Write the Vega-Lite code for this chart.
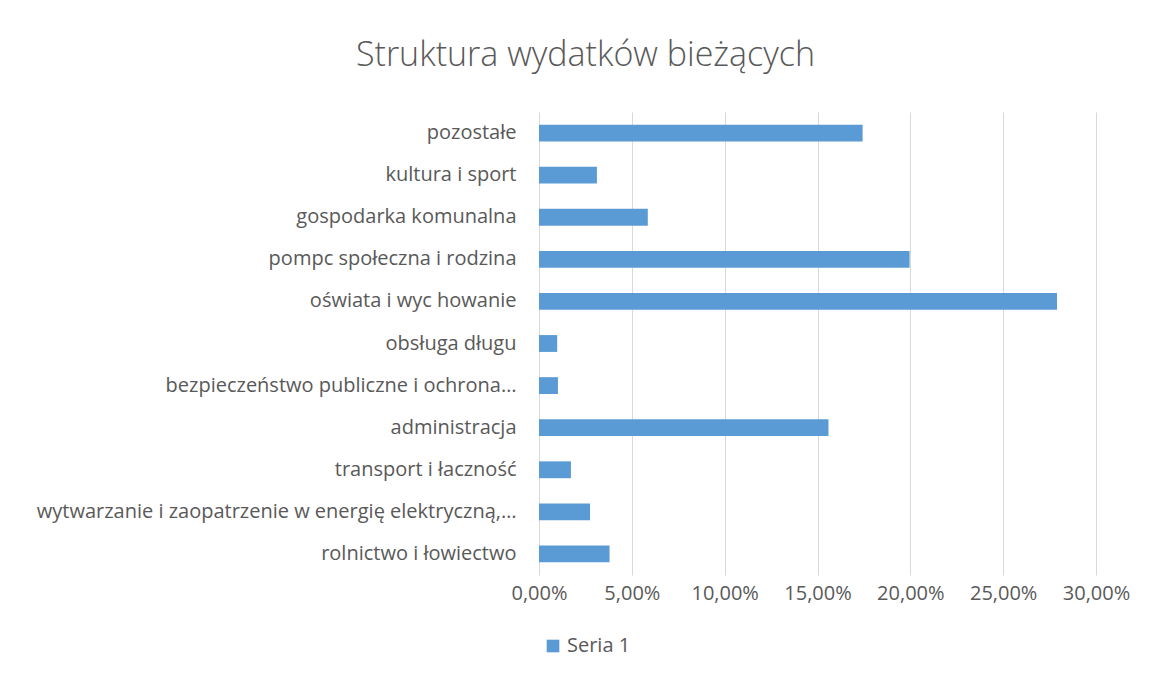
{
  "$schema": "https://vega.github.io/schema/vega-lite/v6.json",
  "width": 557,
  "height": 463,
  "autosize": "none",
  "padding": {"left": 539, "top": 112, "right": 53, "bottom": 100},
  "background": "white",
  "title": {
    "text": "Struktura wydatków bieżących",
    "font": "Open Sans",
    "fontSize": 34,
    "fontWeight": 300,
    "color": "#595959",
    "anchor": "middle",
    "frame": "group",
    "baseline": "alphabetic",
    "offset": 12,
    "dx": -232
  },
  "data": {
    "values": [
      {"category": "pozostałe", "value": 0.1743, "series": "Seria 1"},
      {"category": "kultura i sport", "value": 0.0312, "series": "Seria 1"},
      {"category": "gospodarka komunalna", "value": 0.0586, "series": "Seria 1"},
      {"category": "pompc społeczna i rodzina", "value": 0.1996, "series": "Seria 1"},
      {"category": "oświata i wyc howanie", "value": 0.279, "series": "Seria 1"},
      {"category": "obsługa długu", "value": 0.0098, "series": "Seria 1"},
      {"category": "bezpieczeństwo publiczne i ochrona…", "value": 0.0102, "series": "Seria 1"},
      {"category": "administracja", "value": 0.1559, "series": "Seria 1"},
      {"category": "transport i łaczność", "value": 0.0172, "series": "Seria 1"},
      {"category": "wytwarzanie i zaopatrzenie w energię elektryczną,…", "value": 0.0275, "series": "Seria 1"},
      {"category": "rolnictwo i łowiectwo", "value": 0.038, "series": "Seria 1"}
    ]
  },
  "mark": {"type": "bar"},
  "encoding": {
    "y": {
      "field": "category",
      "type": "nominal",
      "sort": null,
      "scale": {"paddingInner": 0.6, "paddingOuter": 0.3},
      "axis": {
        "title": null,
        "domain": false,
        "ticks": false,
        "grid": false,
        "labelPadding": 23,
        "labelFont": "Open Sans",
        "labelFontSize": 20,
        "labelColor": "#595959",
        "labelLimit": 700
      }
    },
    "x": {
      "field": "value",
      "type": "quantitative",
      "scale": {"domain": [0, 0.3], "nice": false},
      "axis": {
        "title": null,
        "values": [0, 0.05, 0.1, 0.15, 0.2, 0.25, 0.3],
        "labelExpr": "replace(format(datum.value, '.2%'), '.', ',')",
        "labelOverlap": false,
        "labelFlush": false,
        "labelBound": false,
        "labelAlign": "center",
        "domain": false,
        "ticks": false,
        "grid": true,
        "gridColor": "#D9D9D9",
        "gridWidth": 1,
        "labelPadding": 8,
        "labelFont": "Open Sans",
        "labelFontSize": 20,
        "labelColor": "#595959"
      }
    },
    "color": {
      "field": "series",
      "type": "nominal",
      "scale": {"range": ["#5B9BD5"]},
      "legend": {
        "title": null,
        "orient": "none",
        "legendX": 4,
        "legendY": 524,
        "symbolType": "square",
        "symbolSize": 160,
        "symbolStrokeWidth": 0,
        "labelFont": "Open Sans",
        "labelFontSize": 20,
        "labelColor": "#595959"
      }
    }
  },
  "config": {"view": {"stroke": null}}
}
